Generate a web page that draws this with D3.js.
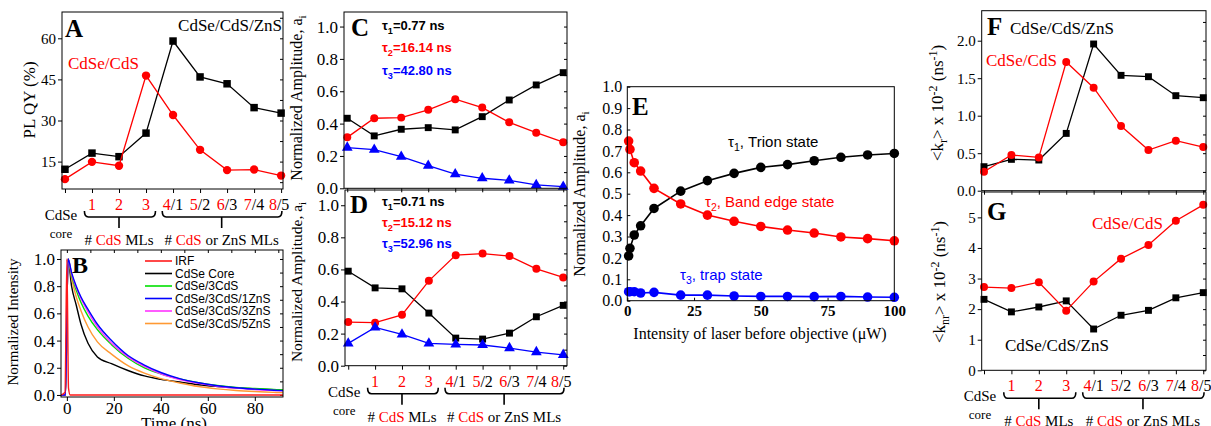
<!DOCTYPE html>
<html>
<head>
<meta charset="utf-8">
<script src="https://cdn.jsdelivr.net/npm/d3@7.9.0/dist/d3.min.js"></script>
<style>body{margin:0;background:#fff}</style>
</head>
<body>
<script>
// ---- data ----
const cats = ["", "1", "2", "3", "4/1", "5/2", "6/3", "7/4", "8/5"];

// A: PL QY (%)
const qyShell = [12.2, 18.1, 16.8, 25.4, 59.0, 45.9, 43.4, 34.7, 32.7];
const qyCdS = [8.6, 14.9, 13.5, 46.4, 32.0, 19.3, 11.9, 12.1, 9.9];

// B: decay curves
const decayTime = [-2.5, -0.6, 0.5, 2, 4, 6, 9, 13, 19, 26, 33, 40, 48, 56, 64, 72, 80, 88, 92];
const decayCore = [0, 0, 1.0, 0.80, 0.66, 0.52, 0.38, 0.28, 0.23, 0.18, 0.14, 0.115, 0.095, 0.075, 0.062, 0.052, 0.045, 0.038, 0.035];
const decay3CdS = [0, 0, 1.0, 0.88, 0.77, 0.68, 0.58, 0.48, 0.37, 0.27, 0.20, 0.155, 0.118, 0.09, 0.07, 0.056, 0.047, 0.04, 0.037];
const decay1ZnS = [0, 0, 1.0, 0.90, 0.80, 0.72, 0.63, 0.52, 0.40, 0.29, 0.22, 0.165, 0.12, 0.09, 0.068, 0.053, 0.043, 0.035, 0.032];
const decay3ZnS = [0, 0, 1.0, 0.89, 0.79, 0.71, 0.61, 0.50, 0.38, 0.28, 0.21, 0.155, 0.113, 0.085, 0.064, 0.05, 0.04, 0.033, 0.03];
const decay5ZnS = [0, 0, 1.0, 0.86, 0.72, 0.62, 0.50, 0.39, 0.30, 0.215, 0.16, 0.12, 0.088, 0.062, 0.045, 0.033, 0.025, 0.019, 0.017];
const irfTime = [-2.5, -0.8, 0, 0.7, 1.4, 92];
const irfVal = [0, 0.02, 1.0, 0.05, 0, 0];

// C, D: amplitudes
const ampC1 = [0.433, 0.324, 0.365, 0.375, 0.361, 0.443, 0.546, 0.639, 0.715];
const ampC2 = [0.315, 0.433, 0.437, 0.485, 0.551, 0.499, 0.408, 0.344, 0.285];
const ampC3 = [0.252, 0.239, 0.196, 0.140, 0.087, 0.062, 0.049, 0.021, 0.010];
const ampD1 = [0.589, 0.485, 0.479, 0.328, 0.172, 0.166, 0.203, 0.305, 0.376];
const ampD2 = [0.272, 0.268, 0.317, 0.529, 0.689, 0.699, 0.683, 0.604, 0.550];
const ampD3 = [0.139, 0.239, 0.195, 0.139, 0.133, 0.129, 0.110, 0.085, 0.068];

// E: power dependence
const power = [0.5, 1, 2.6, 5, 10, 20, 30, 40, 50, 60, 70, 80, 90, 100];
const trion = [0.209, 0.245, 0.307, 0.350, 0.431, 0.512, 0.561, 0.595, 0.623, 0.636, 0.654, 0.670, 0.681, 0.688];
const bandEdge = [0.746, 0.707, 0.645, 0.606, 0.525, 0.452, 0.400, 0.371, 0.347, 0.330, 0.316, 0.298, 0.290, 0.280];
const trap = [0.042, 0.042, 0.042, 0.036, 0.039, 0.026, 0.026, 0.022, 0.020, 0.020, 0.019, 0.020, 0.017, 0.016];

// F, G: rates
const krShell = [0.32, 0.418, 0.409, 0.764, 1.956, 1.538, 1.52, 1.267, 1.24];
const krCdS = [0.253, 0.476, 0.444, 1.716, 1.373, 0.862, 0.542, 0.667, 0.582];
const knrCdS = [2.72, 2.69, 2.88, 1.95, 2.90, 3.65, 4.10, 4.89, 5.41];
const knrShell = [2.32, 1.91, 2.07, 2.27, 1.35, 1.80, 1.96, 2.37, 2.54];

const SERIF = "'Liberation Serif', 'Times New Roman', serif";
const SANS = "'Liberation Sans', Arial, sans-serif";
const RED = "#ff0000", BLUE = "#0000ff";

const svg = d3.select("body").append("svg").attr("width", 1211).attr("height", 426)
  .style("background", "#fff");

function styleAxis(g, size, bold) {
  g.attr("font-family", null).attr("font-size", null);
  g.selectAll("text").attr("font-family", SERIF).attr("font-size", size)
    .attr("font-weight", bold ? "bold" : "normal").attr("fill", "#000");
  g.selectAll("line,path").attr("stroke", "#000");
}

function frame(x, y) {
  const [a, b] = x.range(), [c, d] = y.range();
  svg.append("rect").attr("x", a).attr("y", d).attr("width", b - a).attr("height", c - d)
    .attr("fill", "none").attr("stroke", "#000").attr("stroke-width", 1);
}

// text with sub/superscripts and coloured pieces
function rich(sel, parts) {
  let off = 0;
  parts.forEach(p => {
    const target = p.sub ? 4 : p.sup ? -6 : 0;
    const t = sel.append("tspan").text(p.t).attr("dy", target - off);
    off = target;
    if (p.sub || p.sup) t.attr("font-size", "0.7em");
    if (p.fill) t.attr("fill", p.fill);
  });
  return sel;
}

function label(x, y, parts, opt) {
  const t = svg.append("text").attr("x", x).attr("y", y)
    .attr("font-family", opt.font || SERIF).attr("font-size", opt.size)
    .attr("font-weight", opt.bold ? "bold" : "normal")
    .attr("fill", opt.fill || "#000")
    .attr("text-anchor", opt.anchor || "start");
  if (opt.rotate) t.attr("transform", `rotate(-90,${x},${y})`);
  return rich(t, typeof parts === "string" ? [{t: parts}] : parts);
}

function drawSeries(x, y, xs, ys, color, shape, size, lw) {
  const line = d3.line().x((d, i) => x(xs[i])).y(d => y(d));
  svg.append("path").datum(ys).attr("d", line).attr("fill", "none")
    .attr("stroke", color).attr("stroke-width", lw);
  const sym = d3.symbol().type(shape).size(size);
  svg.append("g").selectAll("path").data(ys).join("path")
    .attr("transform", (d, i) => `translate(${x(xs[i])},${y(d)})`)
    .attr("d", sym).attr("fill", color);
}

function yAxes(x, y, ticks, fmt, size, minor) {
  const [a, b] = x.range();
  const gl = svg.append("g").attr("transform", `translate(${a},0)`)
    .call(d3.axisLeft(y).tickValues(ticks).tickFormat(fmt).tickSize(4).tickPadding(2));
  gl.select(".domain").remove();
  styleAxis(gl, size);
  const gr = svg.append("g").attr("transform", `translate(${b},0)`)
    .call(d3.axisLeft(y).tickValues(minor).tickFormat("").tickSize(3));
  gr.select(".domain").remove();
  styleAxis(gr, size);
}

function catBottom(x, y) {
  const g = svg.append("g").attr("transform", `translate(0,${y.range()[0]})`)
    .call(d3.axisBottom(x).tickValues(d3.range(9)).tickFormat("").tickSize(4));
  g.select(".domain").remove();
  styleAxis(g, 15);
}

function catLabels(x, yb) {
  cats.forEach((c, i) => {
    if (!c) return;
    const [first, ...rest] = c.split("/");
    const parts = [{t: first, fill: RED}];
    if (rest.length) parts.push({t: "/" + rest.join("/")});
    label(x(i) - (i === 8 ? 2 : 0), yb + 21, parts, {size: 16, anchor: "middle"});
  });
  label(x(0) - 4, yb + 31, "CdSe", {size: 15, anchor: "middle"});
  label(x(0) - 4, yb + 49, "core", {size: 13, anchor: "middle"});
  brace(x(0.72), x(3.35), x(2.0), yb + 22);
  brace(x(3.6), x(8.03), x(5.8), yb + 22);
  label(x(2.0), yb + 56, [{t: "# "}, {t: "CdS", fill: RED}, {t: " MLs"}], {size: 15, anchor: "middle"});
  label(x(5.8), yb + 56, [{t: "# "}, {t: "CdS", fill: RED}, {t: " or ZnS MLs"}], {size: 15, anchor: "middle"});
}

function brace(xa, xb, xm, yt) {
  const yh = yt + 6, r = 4;
  svg.append("path")
    .attr("d", `M${xa},${yt} Q${xa},${yh} ${xa + r},${yh} H${xb - r} Q${xb},${yh} ${xb},${yt} M${xm},${yh} V${yh + 11}`)
    .attr("fill", "none").attr("stroke", "#000").attr("stroke-width", 1.6);
}

const idx = d3.range(9);

// ---------- A ----------
const xA = d3.scaleLinear([-0.11, 8.07], [62, 283]);
const yA = d3.scaleLinear([5, 69.6], [189, 12]);
yAxes(xA, yA, [15, 30, 45, 60], d3.format("d"), 15, d3.range(7.5, 69, 7.5));
catBottom(xA, yA);
drawSeries(xA, yA, idx, qyShell, "#000", d3.symbolSquare, 56, 1.3);
drawSeries(xA, yA, idx, qyCdS, RED, d3.symbolCircle, 55, 1.3);
frame(xA, yA);
catLabels(xA, 189);
label(65, 37, "A", {size: 25, bold: true});
label(282, 31, "CdSe/CdS/ZnS", {size: 17, anchor: "end"});
label(68, 69, "CdSe/CdS", {size: 17, fill: RED});
label(35, 100, "PL QY (%)", {size: 17, anchor: "middle", rotate: true});

// ---------- B ----------
const xB = d3.scaleLinear([-2.5, 92], [61, 283]);
const yB = d3.scaleLinear([-0.015, 1.066], [397, 250]);
yAxes(xB, yB, [0, 0.2, 0.4, 0.6, 0.8, 1.0], d3.format(".1f"), 17, d3.range(0, 1.05, 0.1));
{
  const g = svg.append("g").attr("transform", "translate(0,397)")
    .call(d3.axisBottom(xB).tickValues([0, 20, 40, 60, 80]).tickFormat(d3.format("d")).tickSize(4).tickPadding(1));
  g.select(".domain").remove();
  styleAxis(g, 17);
  const gm = svg.append("g").attr("transform", "translate(0,250)")
    .call(d3.axisBottom(xB).tickValues(d3.range(0, 92, 10)).tickFormat("").tickSize(3));
  gm.select(".domain").remove();
  styleAxis(gm, 17);
}
const decaySets = [
  {name: "IRF", t: irfTime, v: irfVal, color: "#ff1a1a"},
  {name: "CdSe Core", t: decayTime, v: decayCore, color: "#000000"},
  {name: "CdSe/3CdS", t: decayTime, v: decay3CdS, color: "#00e000"},
  {name: "CdSe/3CdS/1ZnS", t: decayTime, v: decay1ZnS, color: "#0000ff"},
  {name: "CdSe/3CdS/3ZnS", t: decayTime, v: decay3ZnS, color: "#ff33ff"},
  {name: "CdSe/3CdS/5ZnS", t: decayTime, v: decay5ZnS, color: "#ff9933"}
];
svg.append("clipPath").attr("id", "clipB").append("rect")
  .attr("x", 61).attr("y", 250).attr("width", 222).attr("height", 147);
const drawOrder = [1, 5, 2, 4, 3, 0];
drawOrder.forEach(k => {
  const s = decaySets[k];
  const line = d3.line().x((d, i) => xB(s.t[i])).y(d => yB(d)).curve(d3.curveMonotoneX);
  svg.append("path").datum(s.v).attr("d", line).attr("fill", "none")
    .attr("stroke", s.color).attr("stroke-width", 1.4).attr("clip-path", "url(#clipB)");
});
decaySets.forEach((s, i) => {
  const yy = 261 + i * 12.5;
  svg.append("line").attr("x1", 145).attr("x2", 172).attr("y1", yy).attr("y2", yy)
    .attr("stroke", s.color).attr("stroke-width", 1.6);
  label(175, yy + 4, s.name, {size: 12, font: SANS});
});
frame(xB, yB);
label(72, 273, "B", {size: 24, bold: true});
label(18, 322, "Normalized Intensity", {size: 15, anchor: "middle", rotate: true});
label(174, 429, "Time (ns)", {size: 17, anchor: "middle"});

// ---------- C ----------
const xC = d3.scaleLinear([-0.12, 8.14], [344, 567]);
const yC = d3.scaleLinear([0, 1.09], [188.3, 12]);
yAxes(xC, yC, [0, 0.2, 0.4, 0.6, 0.8, 1.0], d3.format(".1f"), 17, d3.range(0, 1.05, 0.1));
catBottom(xC, yC);
drawSeries(xC, yC, idx, ampC1, "#000", d3.symbolSquare, 48, 1.3);
drawSeries(xC, yC, idx, ampC2, RED, d3.symbolCircle, 50, 1.3);
drawSeries(xC, yC, idx, ampC3, BLUE, d3.symbolTriangle, 50, 1.3);
frame(xC, yC);
label(351, 36, "C", {size: 25, bold: true});
label(382, 30, [{t: "τ"}, {t: "1", sub: true}, {t: "=0.77 ns"}], {size: 13, bold: true, font: SANS});
label(382, 52, [{t: "τ"}, {t: "2", sub: true}, {t: "=16.14 ns"}], {size: 13, bold: true, font: SANS, fill: RED});
label(382, 75, [{t: "τ"}, {t: "3", sub: true}, {t: "=42.80 ns"}], {size: 13, bold: true, font: SANS, fill: BLUE});
label(302, 98, [{t: "Normalized Amplitude, a"}, {t: "i", sub: true}], {size: 16, anchor: "middle", rotate: true});

// ---------- D ----------
const xD = d3.scaleLinear([-0.12, 8.14], [345, 567]);
const yD = d3.scaleLinear([0, 1.095], [365.7, 190]);
yAxes(xD, yD, [0, 0.2, 0.4, 0.6, 0.8, 1.0], d3.format(".1f"), 17, d3.range(0, 1.05, 0.1));
catBottom(xD, yD);
drawSeries(xD, yD, idx, ampD1, "#000", d3.symbolSquare, 48, 1.3);
drawSeries(xD, yD, idx, ampD2, RED, d3.symbolCircle, 50, 1.3);
drawSeries(xD, yD, idx, ampD3, BLUE, d3.symbolTriangle, 50, 1.3);
frame(xD, yD);
catLabels(xD, 365.7);
label(350, 213, "D", {size: 25, bold: true});
label(382, 206, [{t: "τ"}, {t: "1", sub: true}, {t: "=0.71 ns"}], {size: 13, bold: true, font: SANS});
label(382, 227, [{t: "τ"}, {t: "2", sub: true}, {t: "=15.12 ns"}], {size: 13, bold: true, font: SANS, fill: RED});
label(382, 248, [{t: "τ"}, {t: "3", sub: true}, {t: "=52.96 ns"}], {size: 13, bold: true, font: SANS, fill: BLUE});
label(302, 282, [{t: "Normalized Amplitude, a"}, {t: "i", sub: true}], {size: 15.5, anchor: "middle", rotate: true});

// ---------- E ----------
const xE = d3.scaleLinear([0, 100], [627.3, 894.3]);
const yE = d3.scaleLinear([0, 1.0], [300.7, 86.7]);
{
  const gl = svg.append("g").attr("transform", "translate(627.3,0)")
    .call(d3.axisRight(yE).tickValues(d3.range(0, 1.05, 0.1)).tickFormat("").tickSize(3));
  gl.select(".domain").remove();
  styleAxis(gl, 16);
  const glab = svg.append("g").attr("transform", "translate(627.3,0)")
    .call(d3.axisLeft(yE).tickValues(d3.range(0, 1.05, 0.1)).tickFormat(d3.format(".1f")).tickSize(0).tickPadding(5));
  glab.select(".domain").remove();
  styleAxis(glab, 16);
  const gb = svg.append("g").attr("transform", "translate(0,300.7)")
    .call(d3.axisTop(xE).tickValues([0, 25, 50, 75, 100]).tickFormat("").tickSize(3));
  gb.select(".domain").remove();
  styleAxis(gb, 15);
  const gbl = svg.append("g").attr("transform", "translate(0,300.7)")
    .call(d3.axisBottom(xE).tickValues([0, 25, 50, 75, 100]).tickFormat(d3.format("d")).tickSize(0).tickPadding(5));
  gbl.select(".domain").remove();
  styleAxis(gbl, 15, true);
}
drawSeries(xE, yE, power, trion, "#000", d3.symbolCircle, 72, 1.6);
drawSeries(xE, yE, power, bandEdge, RED, d3.symbolCircle, 72, 1.6);
drawSeries(xE, yE, power, trap, BLUE, d3.symbolCircle, 72, 1.6);
frame(xE, yE);
label(632, 115, "E", {size: 25, bold: true});
label(728, 147, [{t: "τ"}, {t: "1", sub: true}, {t: ", Trion state"}], {size: 15, font: SANS});
label(705, 207, [{t: "τ"}, {t: "2", sub: true}, {t: ", Band edge state"}], {size: 15, font: SANS, fill: RED});
label(680, 280, [{t: "τ"}, {t: "3", sub: true}, {t: ", trap state"}], {size: 15, font: SANS, fill: BLUE});
label(585, 194, [{t: "Normalized Amplitude, a"}, {t: "i", sub: true}], {size: 16, anchor: "middle", rotate: true});
label(760, 339, "Intensity of laser before objective (μW)", {size: 16, anchor: "middle"});

// ---------- F ----------
const xF = d3.scaleLinear([-0.084, 8.1], [981.7, 1206]);
const yF = d3.scaleLinear([0, 2.4], [190.7, 10.7]);
yAxes(xF, yF, [0, 0.5, 1.0, 1.5, 2.0], d3.format(".1f"), 15, d3.range(0, 2.4, 0.25));
catBottom(xF, yF);
drawSeries(xF, yF, idx, krShell, "#000", d3.symbolSquare, 48, 1.3);
drawSeries(xF, yF, idx, krCdS, RED, d3.symbolCircle, 50, 1.3);
frame(xF, yF);
label(987, 35, "F", {size: 25, bold: true});
label(1010, 34, "CdSe/CdS/ZnS", {size: 17});
label(986, 66, "CdSe/CdS", {size: 17, fill: RED});
label(943, 103, [{t: "<k"}, {t: "r", sub: true}, {t: "> x 10"}, {t: "-2", sup: true}, {t: " (ns"}, {t: "-1", sup: true}, {t: ")"}],
  {size: 17, anchor: "middle", rotate: true});

// ---------- G ----------
const xG = d3.scaleLinear([-0.084, 8.1], [981.7, 1206]);
const yG = d3.scaleLinear([0, 5.83], [370.3, 192]);
yAxes(xG, yG, [0, 1, 2, 3, 4, 5], d3.format("d"), 15, d3.range(0, 5.8, 0.5));
catBottom(xG, yG);
drawSeries(xG, yG, idx, knrShell, "#000", d3.symbolSquare, 48, 1.3);
drawSeries(xG, yG, idx, knrCdS, RED, d3.symbolCircle, 50, 1.3);
frame(xG, yG);
catLabels(xG, 370.3);
label(987, 220, "G", {size: 25, bold: true});
label(1092, 229, "CdSe/CdS", {size: 17, fill: RED});
label(1005, 351, "CdSe/CdS/ZnS", {size: 17});
label(945, 282, [{t: "<k"}, {t: "nr", sub: true}, {t: "> x 10"}, {t: "-2", sup: true}, {t: " (ns"}, {t: "-1", sup: true}, {t: ")"}],
  {size: 17, anchor: "middle", rotate: true});
</script>
</body>
</html>
